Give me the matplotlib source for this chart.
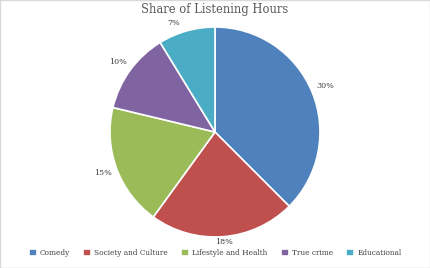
import matplotlib
matplotlib.use("Agg")
import matplotlib.pyplot as plt

genres = ["Comedy", "Society and Culture", "Lifestyle and Health", "True crime", "Educational"]
shares = [30, 18, 15, 10, 7]
colors = ["#4F81BD", "#C0504D", "#9BBB59", "#8064A2", "#4BACC6"]

plt.rcParams["font.family"] = ["DejaVu Serif"]

W, H = 430, 268
fig = plt.figure(figsize=(W / 100, H / 100), dpi=100)
fig.patch.set_facecolor("white")

# pie radius ~105 px, centre at (215, 132) from top
ax = fig.add_axes([110 / W, 31 / H, 210 / W, 210 / H])

wedges, texts, autotexts = ax.pie(
    shares,
    colors=colors,
    startangle=90,
    counterclock=False,
    radius=1,
    autopct=lambda p: "",
    pctdistance=1.14,
    wedgeprops=dict(edgecolor="white", linewidth=1.2),
)
for t, v in zip(autotexts, shares):
    t.set_text(f"{v}%")
    t.set_fontsize(5.8)
    t.set_color("#404040")
# labels nudged where the title / legend squeeze them
x, y = autotexts[1].get_position()
autotexts[1].set_position((x * 0.92, y * 0.92))
autotexts[4].set_position((-0.39, 1.04))

ax.set_xlim(-1, 1)
ax.set_ylim(-1, 1)
ax.set_aspect("equal")
ax.axis("off")

fig.text(0.5, 1 - 9 / H, "Share of Listening Hours", ha="center", va="center",
         fontsize=8.3, color="#595959")

fig.legend(
    wedges, genres,
    loc="center", bbox_to_anchor=(0.5, 1 - 253 / H),
    ncol=5, frameon=False, fontsize=5.3,
    handlelength=1.1, handleheight=1.1, handletextpad=0.4,
    columnspacing=1.8, labelcolor="#404040",
)

fig.patches.append(plt.Rectangle((0, 0), 1, 1, transform=fig.transFigure,
                                 fill=False, edgecolor="#D9D9D9", linewidth=1))

fig.savefig("out.png", dpi=100)
